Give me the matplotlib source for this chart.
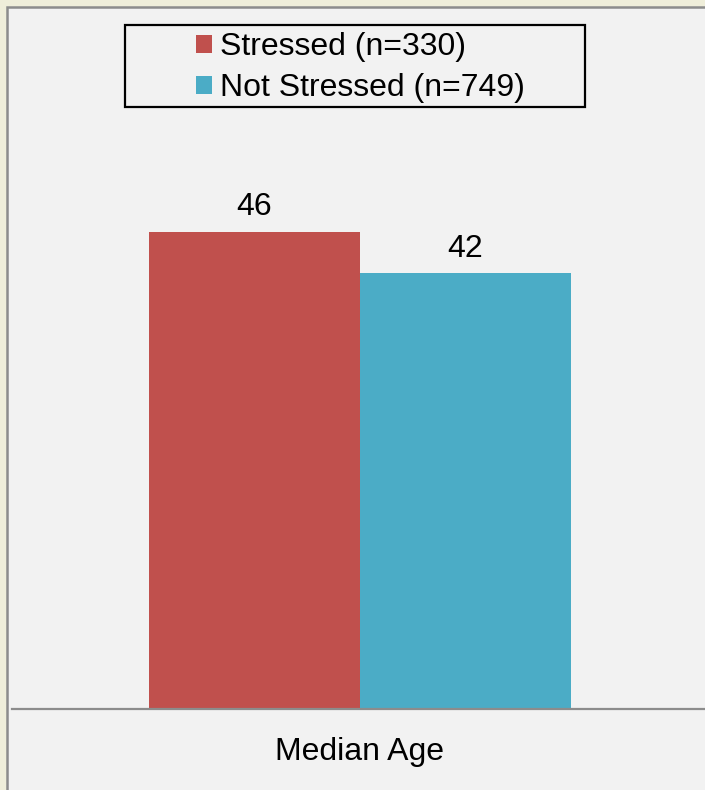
import matplotlib.pyplot as plt
from matplotlib.patches import Rectangle

categories = ["Median Age"]
series = ["Stressed (n=330)", "Not Stressed (n=749)"]
values = [46, 42]
colors = ["#C0504D", "#4BACC6"]

plt.rcParams['font.family'] = ['Liberation Sans', 'DejaVu Sans']

W, H = 705, 790
fig = plt.figure(figsize=(W / 100, H / 100), dpi=100, facecolor="#EFEEDA")

# chart area with grey frame on top/left
fig.patches.append(Rectangle((7 / W, -0.05), 1.2, (H - 7) / H + 0.05, transform=fig.transFigure,
                             facecolor="#F2F2F2", edgecolor="#8C8C8C", linewidth=1.8, zorder=-1))

ax_left, ax_right = 12, 708
ax_bottom, ax_top = 709, 20
ax = fig.add_axes([ax_left / W, 1 - ax_bottom / H, (ax_right - ax_left) / W, (ax_bottom - ax_top) / H])
ax.patch.set_alpha(0)

scale = (709 - 232) / 46.0  # px per unit
ax.set_ylim(0, (ax_bottom - ax_top) / scale)
ax.set_xlim(-1, 1)

bw = 2 * 211 / (ax_right - ax_left)
for i, (name, v, c) in enumerate(zip(series, values, colors)):
    x = (i - 0.5) * bw
    ax.bar(x, v, width=bw, color=c, label=name)
    ax.annotate(str(v), (x, v), xytext=(0, 7), textcoords="offset points",
                ha="center", va="bottom", fontsize=23)

for s in ["top", "left", "right"]:
    ax.spines[s].set_visible(False)
ax.spines["bottom"].set_color("#8C8C8C")
ax.spines["bottom"].set_linewidth(1.6)
ax.set_yticks([])
ax.set_xticks([0], categories)
ax.tick_params(axis="x", length=0, pad=20, labelsize=23)

# legend box
bx0, by0, bx1, by1 = 125, 25, 585, 107
fig.patches.append(Rectangle((bx0 / W, 1 - by1 / H), (bx1 - bx0) / W, (by1 - by0) / H,
                             transform=fig.transFigure, facecolor="none", edgecolor="black",
                             linewidth=1.6, zorder=5))
fig.legend(loc="upper left", bbox_to_anchor=(196 / W, 1 - 32 / H), frameon=False, fontsize=23,
           handlelength=0.5, handleheight=0.5, handletextpad=0.25, labelspacing=0.35,
           borderpad=0, borderaxespad=0)

fig.savefig("out.png", dpi=100, facecolor=fig.get_facecolor())
